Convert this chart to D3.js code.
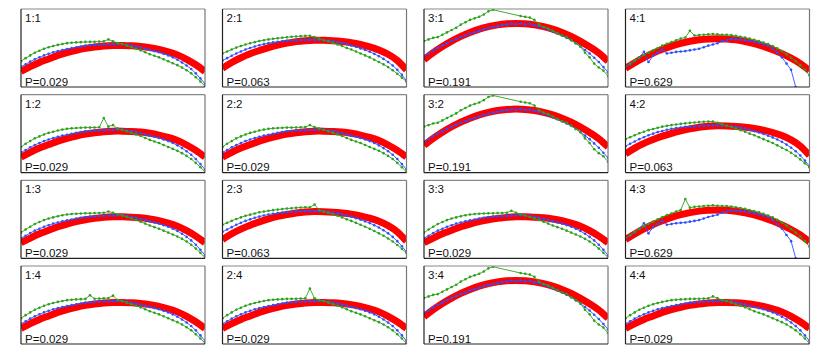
<!DOCTYPE html>
<html>
<head>
<meta charset="UTF-8">
<title>Panels</title>
<script src="https://cdn.jsdelivr.net/npm/d3@7"></script>
<style>
  body { margin: 0; background: #fff; }
  text { font-family: "Liberation Sans", Arial, sans-serif; fill: #111; }
</style>
</head>
<body>
<script>
// panel grid, label "col:row"
const panelLabels = [
    ["1:1", "2:1", "3:1", "4:1"],
    ["1:2", "2:2", "3:2", "4:2"],
    ["1:3", "2:3", "3:3", "4:3"],
    ["1:4", "2:4", "3:4", "4:4"]
];
const panelGroups = [
    ["A", "B", "C", "D"],
    ["A", "A", "C", "B"],
    ["A", "B", "A", "D"],
    ["A", "A", "C", "A"]
];
const groupNames = ["A", "B", "C", "D"];
const groupP = ["0.029", "0.063", "0.191", "0.629"];

// red fitted arcs (21 samples each)
const redA = [0.2, 0.26, 0.315, 0.36, 0.405, 0.44, 0.47, 0.495, 0.512, 0.525, 0.532,
    0.532, 0.528, 0.52, 0.505, 0.482, 0.452, 0.412, 0.355, 0.285, 0.2];
const redB = [0.24, 0.315, 0.375, 0.425, 0.468, 0.505, 0.537, 0.562, 0.582, 0.594, 0.6,
    0.598, 0.592, 0.582, 0.567, 0.545, 0.515, 0.475, 0.42, 0.34, 0.22];
const redC = [0.35, 0.44, 0.519, 0.588, 0.649, 0.699, 0.741, 0.773, 0.797, 0.81, 0.815,
    0.81, 0.797, 0.773, 0.741, 0.699, 0.648, 0.585, 0.515, 0.435, 0.33];
const redD = [0.24, 0.312, 0.377, 0.434, 0.483, 0.525, 0.559, 0.586, 0.605, 0.616, 0.62,
    0.616, 0.604, 0.584, 0.556, 0.52, 0.478, 0.428, 0.37, 0.3, 0.21];

// blue series (41 samples each)
const blueA = [0.26, 0.29, 0.325, 0.355, 0.38, 0.405, 0.425, 0.445, 0.46, 0.475, 0.487,
    0.498, 0.51, 0.52, 0.53, 0.535, 0.54, 0.542, 0.545, 0.547, 0.549,
    0.55, 0.548, 0.542, 0.533, 0.52, 0.505, 0.49, 0.474, 0.46, 0.445,
    0.425, 0.405, 0.38, 0.35, 0.315, 0.275, 0.23, 0.175, 0.11, 0.04];
const blueB = [0.34, 0.37, 0.4, 0.43, 0.455, 0.48, 0.5, 0.52, 0.535, 0.55, 0.562,
    0.572, 0.58, 0.587, 0.592, 0.596, 0.599, 0.601, 0.603, 0.604, 0.604,
    0.603, 0.6, 0.595, 0.587, 0.577, 0.565, 0.55, 0.533, 0.515, 0.495,
    0.474, 0.452, 0.425, 0.395, 0.36, 0.32, 0.275, 0.22, 0.155, 0.08];
const blueC = [0.4, 0.43, 0.47, 0.5, 0.53, 0.56, 0.59, 0.615, 0.64, 0.66, 0.685,
    0.7, 0.72, 0.74, 0.755, 0.77, 0.78, 0.795, 0.8, 0.81, 0.805,
    0.815, 0.8, 0.81, 0.79, 0.78, 0.76, 0.735, 0.71, 0.685, 0.66,
    0.63, 0.6, 0.56, 0.52, 0.475, 0.43, 0.375, 0.32, 0.255, 0.19];
const blueD = [0.26, 0.29, 0.33, 0.38, 0.45, 0.32, 0.4, 0.44, 0.48, 0.43, 0.44,
    0.45, 0.455, 0.46, 0.47, 0.48, 0.49, 0.51, 0.53, 0.545, 0.56,
    0.585, 0.6, 0.615, 0.61, 0.605, 0.6, 0.59, 0.58, 0.565, 0.55,
    0.53, 0.49, 0.44, 0.38, 0.3, 0.22, 0.0, -0.25, -0.5, -0.75];

// green series (41 samples each, null = missing)
const greenA = [0.33, 0.37, 0.405, 0.44, 0.465, 0.49, 0.51, 0.525, 0.54, 0.552, 0.562,
    0.568, 0.572, 0.575, 0.578, 0.578, 0.58, 0.582, 0.585, 0.59, 0.585,
    0.565, 0.55, 0.53, 0.51, 0.49, 0.47, 0.445, 0.42, 0.4, 0.38,
    0.355, 0.33, 0.305, 0.28, 0.25, 0.215, 0.175, 0.125, 0.07, 0.01];
const greenB = [0.43, 0.455, 0.48, 0.505, 0.525, 0.545, 0.56, 0.575, 0.59, 0.6, 0.61,
    0.618, 0.625, 0.632, 0.638, 0.643, 0.648, 0.652, 0.655, 0.655, 0.64,
    0.62, 0.6, 0.585, 0.565, 0.545, 0.525, 0.5, 0.48, 0.455, 0.43,
    0.405, 0.38, 0.35, 0.32, 0.29, 0.255, 0.215, 0.17, 0.12, 0.07];
const greenC = [0.59, 0.61, 0.63, 0.64, 0.67, 0.7, 0.73, 0.76, 0.8, 0.83, 0.86,
    0.88, 0.9, 0.93, 0.97, 0.99, null, null, null, null, null,
    0.91, 0.9, 0.89, 0.86, 0.8, 0.77, 0.75, 0.72, 0.69, 0.66,
    0.64, 0.6, 0.56, 0.52, 0.44, 0.38, 0.3, 0.25, 0.21, 0.14];
const greenD = [0.26, 0.3, 0.34, 0.375, 0.41, 0.44, 0.47, 0.5, 0.53, 0.555, 0.575,
    0.6, 0.62, 0.635, 0.65, 0.66, 0.665, 0.67, 0.675, 0.68, 0.675,
    0.67, 0.67, 0.665, 0.655, 0.645, 0.635, 0.62, 0.605, 0.59, 0.57,
    0.55, 0.525, 0.495, 0.46, 0.42, 0.375, 0.33, 0.28, 0.22, 0.15];

// green points that differ in single panels: [panel, sample, value]
const greenSpikes = [
    ["1:1", 19, 0.61], ["1:2", 18, 0.70], ["1:2", 20, 0.61], ["1:3", 19, 0.60],
    ["1:4", 15, 0.625], ["1:4", 20, 0.62], ["2:2", 19, 0.61], ["2:3", 20, 0.69],
    ["2:4", 19, 0.71], ["3:3", 19, 0.61], ["4:4", 19, 0.61],
    ["4:1", 14, 0.72], ["4:3", 13, 0.76]
];

const redSeries = [redA, redB, redC, redD];
const blueSeries = [blueA, blueB, blueC, blueD];
const greenSeries = [greenA, greenB, greenC, greenD];

const width = 830, height = 354;
const panelW = 184, panelH = 78;

const svg = d3.select("body").append("svg")
    .attr("width", width)
    .attr("height", height);

svg.append("clipPath").attr("id", "panel-clip")
    .append("rect").attr("width", panelW).attr("height", panelH);

const colX = d3.scaleLinear().domain([0, 3]).range([21, 625.5]);
const rowY = d3.scaleLinear().domain([0, 3]).range([9, 266]);

const x = d3.scaleLinear().domain([0, 40]).range([0, panelW]);
const xr = d3.scaleLinear().domain([0, 20]).range([0, panelW]);
const y = d3.scaleLinear().domain([0, 1]).range([panelH, 0]);

const redLine = d3.line()
    .x((d, i) => xr(i))
    .y(d => y(d))
    .curve(d3.curveNatural);

const dotLine = d3.line()
    .x(d => x(d.i))
    .y(d => y(d.v));

function drawSeries(g, values, color) {
    const pts = values.map((v, i) => ({i: i, v: v})).filter(d => d.v !== null);
    g.append("path")
        .attr("d", dotLine(pts))
        .attr("fill", "none")
        .attr("stroke", color)
        .attr("stroke-width", 0.9);
    g.selectAll(null)
        .data(pts)
        .enter().append("circle")
        .attr("cx", d => x(d.i))
        .attr("cy", d => y(d.v))
        .attr("r", 1.3)
        .attr("fill", color);
}

for (let r = 0; r < 4; r++) {
    for (let c = 0; c < 4; c++) {
        const label = panelLabels[r][c];
        const gi = groupNames.indexOf(panelGroups[r][c]);

        const green = greenSeries[gi].slice();
        greenSpikes.filter(s => s[0] === label).forEach(s => { green[s[1]] = s[2]; });

        const g = svg.append("g")
            .attr("transform", "translate(" + colX(c) + "," + rowY(r) + ")");

        const plot = g.append("g").attr("clip-path", "url(#panel-clip)");

        plot.append("path")
            .attr("d", redLine(redSeries[gi]))
            .attr("fill", "none")
            .attr("stroke", "#ff0000")
            .attr("stroke-width", 7);

        drawSeries(plot, blueSeries[gi], "#2f4fff");
        drawSeries(plot, green, "#2ea01c");

        // frame
        g.append("line").attr("x1", 0).attr("x2", panelW).attr("y1", 0).attr("y2", 0)
            .attr("stroke", "#888").attr("stroke-width", 1.2);
        g.append("line").attr("x1", panelW).attr("x2", panelW).attr("y1", 0).attr("y2", panelH)
            .attr("stroke", "#777").attr("stroke-width", 1.2);
        g.append("line").attr("x1", 0).attr("x2", 0).attr("y1", 0).attr("y2", panelH)
            .attr("stroke", "#222").attr("stroke-width", 1.2);
        g.append("line").attr("x1", 0).attr("x2", panelW).attr("y1", panelH).attr("y2", panelH)
            .attr("stroke", "#222").attr("stroke-width", 1.2);

        g.append("text")
            .attr("x", 4).attr("y", 13)
            .attr("font-size", 11.5)
            .text(label);
        g.append("text")
            .attr("x", 4).attr("y", panelH - 1.5)
            .attr("font-size", 11.5)
            .text("P=" + groupP[gi]);
    }
}
</script>
</body>
</html>
